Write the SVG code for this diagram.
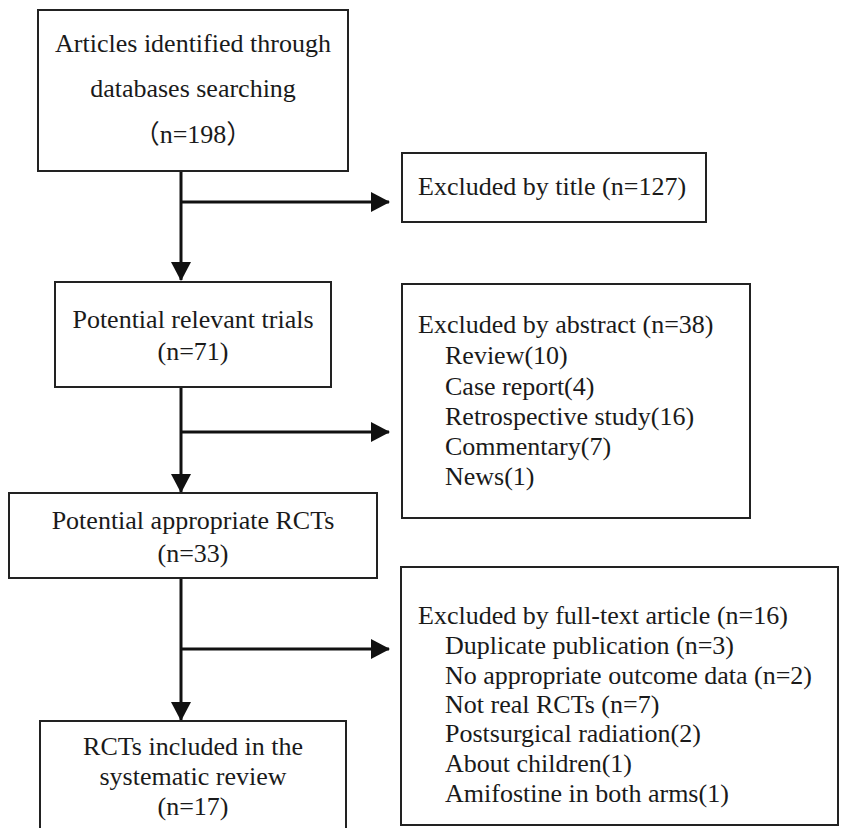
<svg xmlns="http://www.w3.org/2000/svg" width="841" height="828" viewBox="0 0 841 828">
<style>
.box{fill:#fff;stroke:#222;stroke-width:2}
.t{font-family:'Liberation Serif',serif;font-size:26px;fill:#1a1a1a}
.cjk{font-family:'Liberation Serif','Noto Sans CJK SC',serif}
.c{text-anchor:middle}
.ln{stroke:#111;stroke-width:3;fill:none}
</style>
<defs>
<marker id="ah" markerUnits="userSpaceOnUse" markerWidth="20" markerHeight="20" viewBox="0 0 20 20" refX="18" refY="10" orient="auto">
<path d="M0,0 L19,10 L0,20 Z" fill="#111"/>
</marker>
</defs>
<rect width="841" height="828" fill="#fff"/>
<g id="connectors">
<line class="ln" x1="181" y1="171" x2="181" y2="280" marker-end="url(#ah)"/>
<line class="ln" x1="181" y1="202" x2="389" y2="202" marker-end="url(#ah)"/>
<line class="ln" x1="181" y1="387" x2="181" y2="492" marker-end="url(#ah)"/>
<line class="ln" x1="181" y1="432" x2="389" y2="432" marker-end="url(#ah)"/>
<line class="ln" x1="181" y1="578" x2="181" y2="720" marker-end="url(#ah)"/>
<line class="ln" x1="181" y1="649" x2="389" y2="649" marker-end="url(#ah)"/>
</g>
<g id="identified">
<rect class="box" x="38" y="10" width="310" height="161"/>
<text class="t c" x="193" y="52">Articles identified through</text>
<text class="t c" x="193" y="97">databases searching</text>
<text class="t c cjk" x="193" y="143">（n=198）</text>
</g>
<g id="excluded-title">
<rect class="box" x="402" y="153" width="304" height="69"/>
<text class="t" x="418" y="195">Excluded by title (n=127)</text>
</g>
<g id="relevant">
<rect class="box" x="55" y="282" width="276" height="105"/>
<text class="t c" x="193" y="328">Potential relevant trials</text>
<text class="t c" x="193" y="360">(n=71)</text>
</g>
<g id="excluded-abstract">
<rect class="box" x="402" y="284" width="348" height="234"/>
<text class="t" x="418" y="333">Excluded by abstract (n=38)</text>
<text class="t" x="445" y="364">Review(10)</text>
<text class="t" x="445" y="395">Case report(4)</text>
<text class="t" x="445" y="425">Retrospective study(16)</text>
<text class="t" x="445" y="455">Commentary(7)</text>
<text class="t" x="445" y="485">News(1)</text>
</g>
<g id="appropriate">
<rect class="box" x="9" y="493" width="368" height="85"/>
<text class="t c" x="193" y="529">Potential appropriate RCTs</text>
<text class="t c" x="193" y="562">(n=33)</text>
</g>
<g id="included">
<path class="box" d="M40,840 L40,721 L346,721 L346,840"/>
<text class="t c" x="193" y="755">RCTs included in the</text>
<text class="t c" x="193" y="785">systematic review</text>
<text class="t c" x="193" y="815">(n=17)</text>
</g>
<g id="excluded-fulltext">
<rect class="box" x="401" y="567" width="437" height="258"/>
<text class="t" x="418" y="624">Excluded by full-text article (n=16)</text>
<text class="t" x="445" y="654">Duplicate publication (n=3)</text>
<text class="t" x="445" y="684">No appropriate outcome data (n=2)</text>
<text class="t" x="445" y="713">Not real RCTs (n=7)</text>
<text class="t" x="445" y="742">Postsurgical radiation(2)</text>
<text class="t" x="445" y="772">About children(1)</text>
<text class="t" x="445" y="802">Amifostine in both arms(1)</text>
</g>
</svg>
